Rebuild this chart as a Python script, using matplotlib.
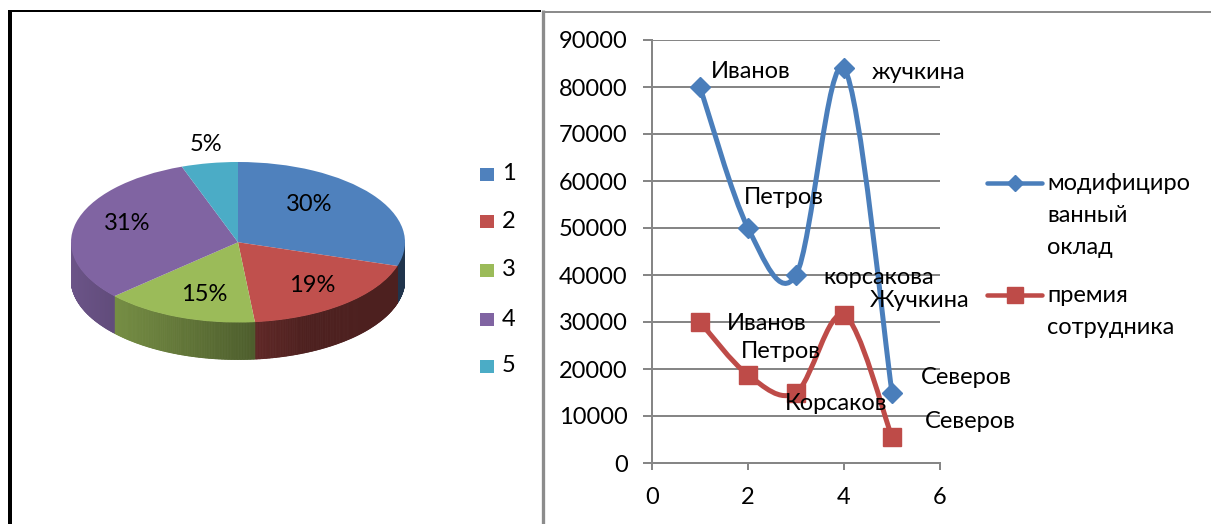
import numpy as np
import matplotlib
matplotlib.use('Agg')
import matplotlib.pyplot as plt
from matplotlib.path import Path
from matplotlib.patches import PathPatch, Rectangle
from matplotlib.collections import PolyCollection
from matplotlib.lines import Line2D
import matplotlib.colors as mcolors

# ---------------- data ----------------
pie_categories = ['1', '2', '3', '4', '5']
x_values = [1, 2, 3, 4, 5]
salary = [80000, 50000, 40000, 84000, 15000]
bonus = [30000, 18750, 15000, 31500, 5500]
salary_labels = ['Иванов', 'Петров', 'корсакова', 'жучкина', 'Северов']
bonus_labels = ['Иванов', 'Петров', 'Корсаков', 'Жучкина', 'Северов']
series_names = ['модифициро\nванный\nоклад', 'премия\nсотрудника']
x_ticks = [0, 2, 4, 6]
y_ticks = list(range(0, 90001, 10000))

# ---------------- style ----------------
pie_colors = ['#4F81BD', '#C0504D', '#9BBB59', '#8064A2', '#4BACC6']
blue = '#4A7EBB'
red = '#BE4B48'
grid_c = '#868686'
FONT = ['Lato', 'DejaVu Sans']
FS = 17
PX = 0.72  # points per pixel at dpi 100

W, H = 1211, 524
fig = plt.figure(figsize=(W / 100, H / 100), dpi=100)


def fx(px):
    return px / W


def fy(py):
    return 1 - py / H


# overlay axes in pixel coordinates (borders, legends)
bg = fig.add_axes([0, 0, 1, 1])
bg.set_xlim(0, W)
bg.set_ylim(H, 0)
bg.axis('off')
bg.set_zorder(10)
bg.patch.set_visible(False)

bg.plot([9.5, 9.5], [10, H], color='black', lw=4 * PX, solid_capstyle='butt')
bg.plot([7.5, 541], [11, 11], color='black', lw=2 * PX, solid_capstyle='butt')
bg.plot([542.5, 542.5], [10, H], color='#8c8c8c', lw=3.3 * PX, solid_capstyle='butt')
bg.plot([544, W], [11.5, 11.5], color='#8c8c8c', lw=2 * PX, solid_capstyle='butt')

# ---------------- pie (3D-like) ----------------
D = 37 / 80.3
ax_pie = fig.add_axes([fx(71), fy(359.5), 334 / W, 197.5 / H])
wedges, _ = ax_pie.pie(bonus, colors=pie_colors, startangle=90, counterclock=False,
                       wedgeprops=dict(linewidth=0))
ax_pie.set_aspect('auto')
ax_pie.set_xlim(-1, 1)
ax_pie.set_ylim(-1 - D, 1)
ax_pie.axis('off')

polys, cols = [], []
for w, c in zip(wedges, pie_colors):
    base = np.array(mcolors.to_rgb(c))
    t1, t2 = w.theta1, w.theta2
    angs = np.linspace(t1, t2, max(int((t2 - t1) * 2), 2) + 1)
    for a1, a2 in zip(angs[:-1], angs[1:]):
        am = np.deg2rad((a1 + a2) / 2)
        if np.sin(am) > 0.0:
            continue
        r1, r2 = np.deg2rad(a1), np.deg2rad(a2)
        p = [(np.cos(r1), np.sin(r1)), (np.cos(r2), np.sin(r2)),
             (np.cos(r2), np.sin(r2) - D), (np.cos(r1), np.sin(r1) - D)]
        f = np.clip(0.53 - 0.31 * np.cos(am), 0.4, 0.9)
        polys.append(p)
        cols.append(tuple(base * f))
pc = PolyCollection(polys, facecolors=cols, edgecolors=cols, linewidths=0.6, zorder=0)
ax_pie.add_collection(pc)
for w in wedges:
    w.set_zorder(2)

pct = np.array(bonus) / np.sum(bonus) * 100
label_r = [0.64, 0.70, 0.68, 0.70, 1.23]
label_shift = [11.5, 0.0, 3.5, -5.0, -1.0]
for w, p, d, s in zip(wedges, pct, label_r, label_shift):
    m = np.deg2rad((w.theta1 + w.theta2) / 2 + s)
    ax_pie.text(d * np.cos(m), d * np.sin(m), f'{p:.0f}%', ha='center', va='center',
                fontsize=FS, family=FONT, zorder=5)

# pie legend
leg_y = [174, 221, 270, 319, 366]
for cat, c, yy in zip(pie_categories, pie_colors, leg_y):
    bg.add_patch(Rectangle((480, yy - 6.5), 14, 13, color=c, lw=0))
    bg.text(502, yy, cat, ha='left', va='center', fontsize=FS, family=FONT)

# ---------------- line chart ----------------
ax = fig.add_axes([fx(652), fy(463), (940 - 652) / W, (463 - 40) / H])
ax.set_xlim(0, 6)
ax.set_ylim(0, 90000)
ax.set_xticks(x_ticks)
ax.set_yticks(y_ticks)
ax.grid(axis='y', color=grid_c, lw=2 * PX)
ax.set_axisbelow(True)
for s in ['top', 'right']:
    ax.spines[s].set_visible(False)
for s in ['left', 'bottom']:
    ax.spines[s].set_color(grid_c)
    ax.spines[s].set_linewidth(2 * PX)
ax.tick_params(axis='y', length=9 * PX, width=2 * PX, color=grid_c, pad=11, labelsize=FS)
ax.tick_params(axis='x', length=7 * PX, width=2 * PX, color=grid_c, pad=12, labelsize=FS)
for lab in ax.get_xticklabels() + ax.get_yticklabels():
    lab.set_family(FONT)


def smooth_path(xs, ys):
    P = np.column_stack([xs, ys]).astype(float)
    n = len(P)
    verts = [P[0]]
    codes = [Path.MOVETO]
    for i in range(n - 1):
        p0 = P[i - 1] if i > 0 else P[i]
        p1, p2 = P[i], P[i + 1]
        p3 = P[i + 2] if i + 2 < n else P[i + 1]
        verts += [p1 + (p2 - p0) / 6, p2 - (p3 - p1) / 6, p2]
        codes += [Path.CURVE4] * 3
    return Path(verts, codes)


ax.add_patch(PathPatch(smooth_path(x_values, salary), fill=False, edgecolor=blue,
                       lw=5 * PX, capstyle='round', joinstyle='round', zorder=3))
ax.add_patch(PathPatch(smooth_path(x_values, bonus), fill=False, edgecolor=red,
                       lw=5 * PX, capstyle='round', joinstyle='round', zorder=3))
ax.plot(x_values, salary, ls='none', marker='D', ms=10, color=blue, zorder=4, clip_on=False)
ax.plot(x_values, bonus, ls='none', marker='s', ms=13, color=red, zorder=4, clip_on=False)

sal_off = [(10.5, -15), (-4, -30), (27.5, 2), (28, 4), (28.5, -15.5)]
bon_off = [(26.5, 2), (-7, -23), (-11.5, 10.5), (26, -14.5), (33, -15.5)]
for xv, yv, lab, (dx, dy) in zip(x_values, salary, salary_labels, sal_off):
    ax.annotate(lab, (xv, yv), xytext=(dx * PX, -dy * PX), textcoords='offset points',
                ha='left', va='center', fontsize=FS, family=FONT, annotation_clip=False, zorder=5)
for xv, yv, lab, (dx, dy) in zip(x_values, bonus, bonus_labels, bon_off):
    ax.annotate(lab, (xv, yv), xytext=(dx * PX, -dy * PX), textcoords='offset points',
                ha='left', va='center', fontsize=FS, family=FONT, annotation_clip=False, zorder=5)

# line legend
leg_rows = [183, 295]
for name, c, mk, ms, yy in zip(series_names, [blue, red], ['D', 's'], [8, 11], leg_rows):
    bg.add_line(Line2D([987, 1042], [yy, yy], color=c, lw=4.5 * PX, solid_capstyle='round'))
    bg.add_line(Line2D([1014.5], [yy], marker=mk, ms=ms, color=c, ls='none'))
    for k, line in enumerate(name.split('\n')):
        bg.text(1047, yy + 32 * k, line, ha='left', va='center', fontsize=FS, family=FONT)

fig.savefig('out.png', dpi=100, facecolor='white')
